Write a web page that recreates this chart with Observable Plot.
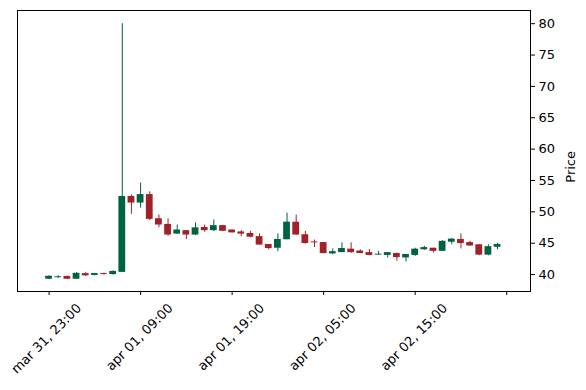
<!DOCTYPE html>
<html>
<head>
<meta charset="utf-8">
<script src="https://cdn.jsdelivr.net/npm/d3@7"></script>
<script src="https://cdn.jsdelivr.net/npm/@observablehq/plot@0.6"></script>
<style>
  html, body { margin: 0; padding: 0; background: white; }
</style>
</head>
<body>
<div id="chart"></div>
<script>
// Hourly candles, mar 31 23:00 -> apr 02 24:00 (index positions on x)
const open  = [39.26, 39.50, 39.70, 39.25, 40.15, 39.85, 40.15, 40.00, 40.35, 52.45,
               51.40, 52.75, 48.90, 48.00, 46.45, 47.00, 46.30, 47.50, 47.00, 47.80,
               47.10, 46.80, 46.55, 46.05, 44.80, 44.20, 45.55, 48.35, 46.35, 45.20,
               45.10, 43.30, 43.50, 44.05, 43.75, 43.50, 43.10, 43.05, 43.35, 42.65,
               43.05, 43.95, 44.20, 43.70, 45.15, 45.60, 45.10, 44.75, 43.10, 44.35];
const high  = [39.80, 39.80, 39.75, 40.30, 40.30, 40.20, 40.25, 40.60, 80.00, 52.70,
               54.60, 53.20, 49.50, 48.90, 47.90, 47.00, 48.25, 47.90, 48.70, 47.85,
               47.10, 47.00, 46.90, 46.50, 44.80, 46.50, 49.80, 49.50, 46.90, 45.50,
               45.10, 44.10, 45.05, 45.05, 43.95, 44.00, 43.70, 43.50, 43.45, 43.20,
               44.20, 44.50, 44.20, 45.40, 45.75, 46.50, 45.30, 44.75, 44.75, 45.00];
const low   = [39.20, 39.40, 39.20, 39.25, 39.70, 39.80, 39.90, 39.90, 40.30, 49.60,
               50.60, 48.60, 47.45, 46.10, 46.40, 45.60, 46.20, 46.75, 46.85, 46.90,
               46.60, 46.05, 45.85, 44.70, 43.95, 43.65, 45.55, 46.30, 44.85, 44.30,
               43.30, 43.15, 43.50, 43.40, 43.35, 43.00, 43.10, 42.65, 42.15, 42.00,
               42.90, 43.85, 43.45, 43.70, 44.75, 44.10, 44.55, 43.00, 43.00, 43.95];
const close = [39.73, 39.65, 39.25, 40.20, 39.80, 40.15, 40.00, 40.50, 52.45, 51.40,
               52.75, 48.80, 47.90, 46.30, 47.10, 46.30, 47.45, 47.00, 47.80, 46.90,
               46.65, 46.45, 45.95, 44.70, 44.15, 45.60, 48.35, 46.30, 44.95, 45.05,
               43.35, 43.65, 44.15, 43.50, 43.35, 43.05, 43.25, 43.50, 42.70, 43.20,
               44.05, 44.30, 43.70, 45.30, 45.65, 44.95, 44.55, 43.10, 44.45, 44.80];

const xTickPos    = [0, 10, 20, 30, 40, 50];
const xTickLabels = ["mar 31, 23:00", "apr 01, 09:00", "apr 01, 19:00", "apr 02, 05:00", "apr 02, 15:00", ""];
const yTicks      = [40, 45, 50, 55, 60, 65, 70, 75, 80];
const yLabel      = "Price";

const upColor = "#006340";
const downColor = "#A02128";

const data = open.map((o, i) => ({i, open: o, high: high[i], low: low[i], close: close[i]}));
const colorOf = d => (d.close >= d.open ? upColor : downColor);
const tickData = xTickPos.map((p, k) => ({p, label: xTickLabels[k]}));

const chart = Plot.plot({
  width: 586,
  height: 390,
  marginTop: 10,
  marginBottom: 99,
  marginLeft: 17,
  marginRight: 56,
  style: {fontFamily: "DejaVu Sans", fontSize: "13px", background: "white", color: "black"},
  x: {type: "linear", domain: [-3.45, 52.6]},
  y: {domain: [37.3, 82.1]},
  marks: [
    Plot.ruleX(data, {x: "i", y1: "low", y2: "high", stroke: colorOf, strokeWidth: 1}),
    Plot.rect(data, {
      x1: d => d.i - 0.37, x2: d => d.i + 0.37,
      y1: "open", y2: "close", fill: colorOf
    }),
    Plot.frame({stroke: "black", strokeWidth: 1}),
    Plot.axisY({anchor: "right", ticks: yTicks, tickSize: 4, tickPadding: 4, label: null, fontSize: 13}),
    Plot.axisX({ticks: xTickPos, tickSize: 4, tickFormat: () => "", label: null}),
    Plot.text(tickData, {
      x: "p", text: "label", frameAnchor: "bottom",
      rotate: -45, textAnchor: "end", dx: 33, dy: 17.5, fontSize: 13
    }),
    Plot.text([yLabel], {
      text: d => d, frameAnchor: "right", rotate: -90, dx: 40, fontSize: 13
    })
  ]
});
document.getElementById("chart").append(chart);
</script>
</body>
</html>
